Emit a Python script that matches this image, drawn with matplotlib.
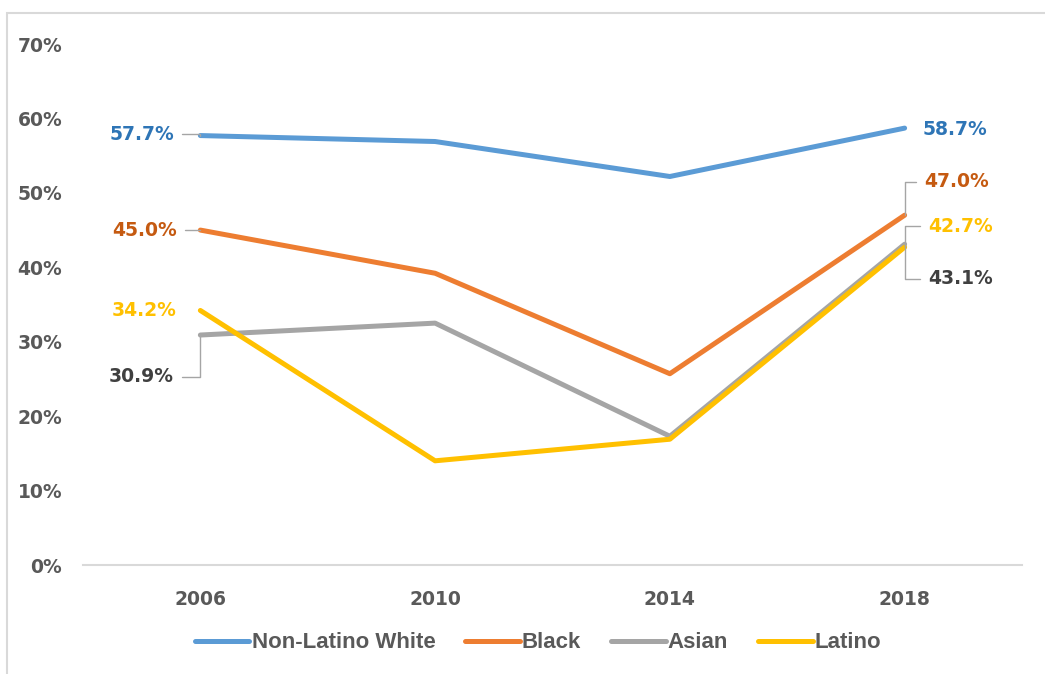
import matplotlib
matplotlib.use("Agg")
import matplotlib.pyplot as plt
from matplotlib.patches import Rectangle
from matplotlib.ticker import PercentFormatter

# survey years and share per group (fractions)
years = ["2006", "2010", "2014", "2018"]
white = [0.577, 0.569, 0.522, 0.587]
black = [0.450, 0.392, 0.257, 0.470]
asian = [0.309, 0.325, 0.173, 0.431]
latino = [0.342, 0.140, 0.169, 0.427]

names = ["Non-Latino White", "Black", "Asian", "Latino"]
line_colors = ["#5B9BD5", "#ED7D31", "#A5A5A5", "#FFC000"]
label_colors = ["#2E75B6", "#C55A11", "#404040", "#FFC000"]

plt.rcParams['font.family'] = ['DejaVu Sans']

fig = plt.figure(figsize=(10.45, 6.74), dpi=100)
ax = fig.add_axes([0.0794, 0.1617, 0.8986, 0.773])

x = list(range(len(years)))
series = [white, black, asian, latino]
for vals, name, c in zip(series, names, line_colors):
    ax.plot(x, vals, color=c, lw=3.6, label=name, solid_capstyle='round', solid_joinstyle='round')

ax.set_xlim(-0.5, 3.5)
ax.set_ylim(0, 0.7)
ax.set_yticks([i / 10 for i in range(8)])
ax.yaxis.set_major_formatter(PercentFormatter(1.0, decimals=0))
ax.set_xticks(x)
ax.set_xticklabels(years)
ax.tick_params(length=0, labelsize=13.5, labelcolor="#595959", pad=18)
ax.tick_params(axis='y', pad=15)
for lab in ax.get_xticklabels() + ax.get_yticklabels():
    lab.set_fontweight('bold')
for side in ["top", "right", "left"]:
    ax.spines[side].set_visible(False)
ax.spines["bottom"].set_color("#D9D9D9")
ax.spines["bottom"].set_linewidth(1.5)

lead = dict(arrowstyle='-', color='#A5A5A5', lw=1.0, shrinkA=4, shrinkB=0)

def label(i, vals, color, dx, dy, ha, leader=None):
    v = vals[i]
    props = None
    if leader is not None:
        props = dict(lead, connectionstyle=leader)
    ax.annotate(f"{v * 100:.1f}%", xy=(i, v), xytext=(dx, dy), textcoords='offset points',
                ha=ha, va='center', fontsize=13.5, fontweight='bold', color=color,
                arrowprops=props)

elbow = 'angle,angleA=0,angleB=90,rad=0'

# left-hand labels (2006)
label(0, white, label_colors[0], -19, 1, 'right', elbow)
label(0, black, label_colors[1], -17, 0, 'right', elbow)
label(0, latino, label_colors[3], -17, 0, 'right')
label(0, asian, label_colors[2], -19, -30, 'right', elbow)

# right-hand labels (2018)
label(3, white, label_colors[0], 13, -1, 'left')
label(3, black, label_colors[1], 14, 24, 'left', elbow)
label(3, latino, label_colors[3], 17, 15, 'left', elbow)
label(3, asian, label_colors[2], 17, -25, 'left', elbow)

leg = fig.legend(loc='center', bbox_to_anchor=(0.515, 0.046), ncol=4, frameon=False,
                 handlelength=2.45, handletextpad=0.1, columnspacing=1.35,
                 prop={'family': ['Liberation Sans'], 'weight': 'bold', 'size': 16})
for t in leg.get_texts():
    t.set_color("#595959")

# outer chart border
fig.patches.append(Rectangle((7 / 1045, -0.05), 1.1, 1 - 13 / 674 + 0.05, transform=fig.transFigure,
                             fill=False, edgecolor="#D9D9D9", lw=1.5))

fig.savefig("out.png", dpi=100)
